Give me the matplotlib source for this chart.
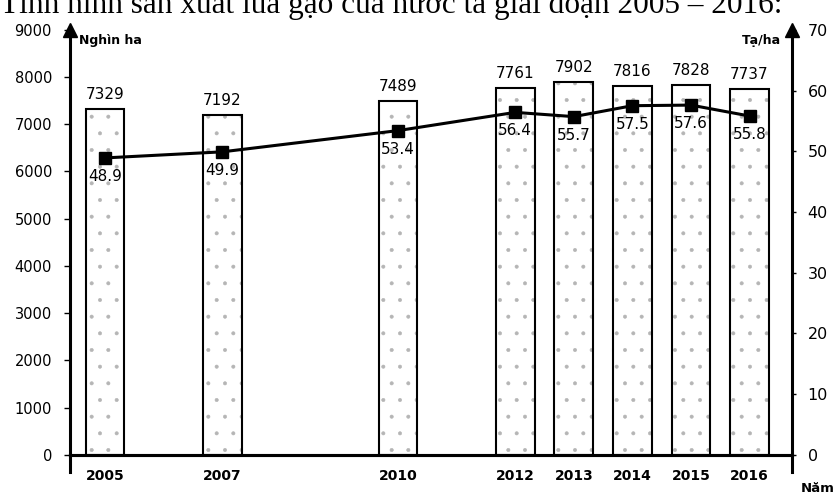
import matplotlib.pyplot as plt

years = [2005, 2007, 2010, 2012, 2013, 2014, 2015, 2016]
area = [7329, 7192, 7489, 7761, 7902, 7816, 7828, 7737]      # nghin ha
yield_ = [48.9, 49.9, 53.4, 56.4, 55.7, 57.5, 57.6, 55.8]    # ta/ha
left_ticks = [0, 1000, 2000, 3000, 4000, 5000, 6000, 7000, 8000, 9000]
right_ticks = [0, 10, 20, 30, 40, 50, 60, 70]

plt.rcParams['hatch.linewidth'] = 0.4

fig = plt.figure(figsize=(8.37, 4.97), dpi=100)
ax = fig.add_axes([0.0836, 0.085, 0.863, 0.855])
ax2 = ax.twinx()

# bars (area): dotted fill first, black outline on top
ax.bar(years, area, width=0.66, facecolor='white', edgecolor='#b5b5b5',
       linewidth=0, hatch='.', zorder=2)
ax.bar(years, area, width=0.66, facecolor='none', edgecolor='black',
       linewidth=1.5, zorder=2)
for x, v in zip(years, area):
    ax.text(x, v + 150, str(v), ha='center', va='bottom', fontsize=11)

ax.set_xlim(2004.4, 2016.73)
ax.set_ylim(0, 9000)
ax.set_yticks(left_ticks)
ax.set_xticks(years)
ax.tick_params(axis='y', labelsize=10.5, length=4, width=1, direction='out', pad=9)
ax.tick_params(axis='x', labelsize=10, length=0, pad=10)
for lab in ax.get_xticklabels():
    lab.set_fontweight('bold')

# line (yield)
ax2.plot(years, yield_, color='black', lw=2.2, marker='s', markersize=9, zorder=3)
for x, v in zip(years, yield_):
    ax2.text(x, v - 1.8, f'{v}', ha='center', va='top', fontsize=11)
ax2.set_ylim(0, 70)
ax2.set_yticks(right_ticks)
ax2.tick_params(axis='y', labelsize=11.5, length=3, width=1, direction='out', pad=8)

for a in (ax, ax2):
    a.spines['top'].set_visible(False)
    a.spines['left'].set_linewidth(2.2)
    a.spines['right'].set_linewidth(2.2)
    a.spines['bottom'].set_linewidth(2.2)
ax2.spines['left'].set_visible(False)
ax.spines['right'].set_visible(False)

# axis arrows and the short stubs below the year axis
ax.plot(0, 1.0, marker='^', color='black', markersize=10, transform=ax.transAxes, clip_on=False)
ax.plot(1, 1.0, marker='^', color='black', markersize=10, transform=ax.transAxes, clip_on=False)
ax.plot([0, 0], [-0.04, 0], color='black', lw=2.2, transform=ax.transAxes, clip_on=False)
ax.plot([1, 1], [-0.04, 0], color='black', lw=2.2, transform=ax.transAxes, clip_on=False)

# axis names
ax.text(0.012, 0.99, 'Nghìn ha', transform=ax.transAxes, ha='left', va='top',
        fontsize=9, fontweight='bold')
ax.text(0.985, 0.99, 'Tạ/ha', transform=ax.transAxes, ha='right', va='top',
        fontsize=9, fontweight='bold')
ax.text(1.012, -0.065, 'Năm', transform=ax.transAxes, ha='left', va='top',
        fontsize=9.5, fontweight='bold')

# heading, cut at the top edge as in the scan
fig.text(0.935, 0.974, 'Tình hình sản xuất lúa gạo của nước ta giai đoạn 2005 – 2016:',
         ha='right', va='baseline', fontsize=22.5, family='Liberation Serif')

fig.savefig('out.png', dpi=100)
